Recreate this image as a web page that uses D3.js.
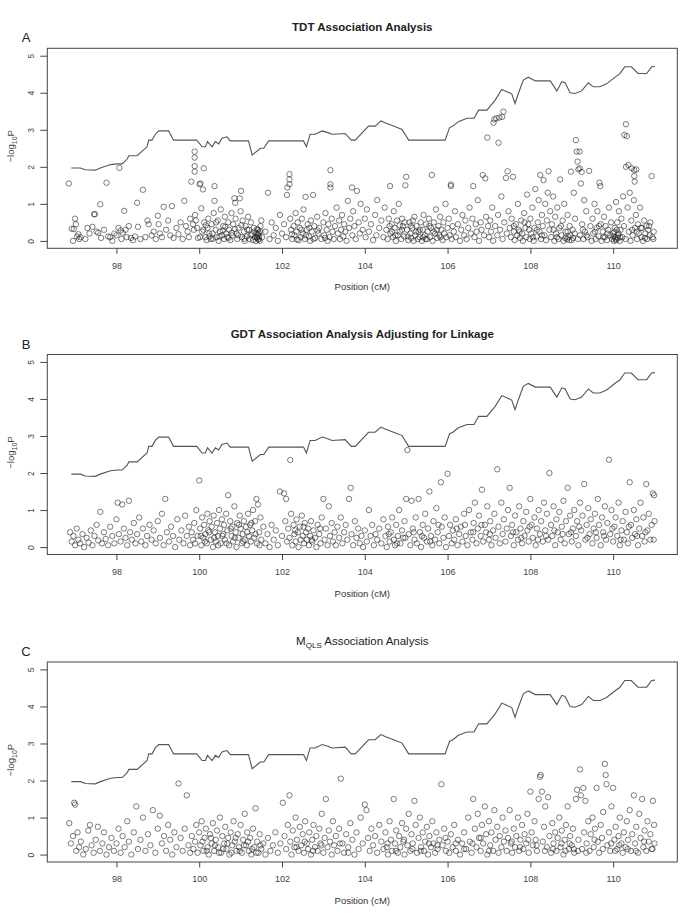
<!DOCTYPE html>
<html><head><meta charset="utf-8">
<script src="https://cdn.jsdelivr.net/npm/d3@7"></script>
<style>body{margin:0;background:#fff}svg{display:block}</style>
</head><body>
<script>
// ---------- DATA ----------
const xTicks = [98, 100, 102, 104, 106, 108, 110];
const yTicks = [0, 1, 2, 3, 4, 5];
const panelLetters = ["A", "B", "C"];
const panelTitles = ["TDT Association Analysis", "GDT Association Analysis Adjusting for Linkage", "MQLS Association Analysis"];
const xLabel = "Position (cM)";

// linkage curve (same in all panels)
const linkPos = [96.91,97.13,97.25,97.49,97.61,97.86,98.02,98.14,98.26,98.30,98.50,98.74,98.78,98.86,98.94,99.02,99.26,99.38,99.94,100.07,100.15,100.20,100.31,100.39,100.47,100.55,100.67,100.75,101.19,101.28,101.48,101.56,101.68,102.52,102.59,102.68,102.80,102.97,103.09,103.21,103.53,103.67,103.77,104.09,104.25,104.39,104.49,104.74,104.90,105.06,105.94,106.05,106.13,106.26,106.47,106.64,106.75,106.95,107.15,107.31,107.43,107.55,107.63,107.71,107.83,107.95,108.12,108.48,108.64,108.76,108.84,108.96,109.08,109.24,109.40,109.52,109.68,109.84,110.08,110.16,110.28,110.44,110.60,110.81,110.93,111.01];
const linkVal = [1.97,1.97,1.92,1.91,1.97,2.06,2.08,2.08,2.21,2.30,2.30,2.54,2.72,2.72,2.88,2.97,2.97,2.72,2.72,2.54,2.54,2.68,2.54,2.68,2.62,2.77,2.81,2.70,2.70,2.32,2.50,2.50,2.70,2.70,2.54,2.88,2.88,2.97,2.93,2.88,2.90,2.72,2.72,3.10,3.10,3.24,3.19,3.08,3.01,2.72,2.72,3.06,3.10,3.22,3.31,3.31,3.53,3.53,3.80,4.09,4.03,3.97,3.71,3.98,4.34,4.42,4.32,4.32,4.05,4.30,4.27,4.00,3.98,4.05,4.27,4.16,4.16,4.24,4.45,4.51,4.70,4.70,4.52,4.52,4.70,4.71];

// panel A: TDT  [position cM, -log10 P]
const tdtPoints = [
[96.85,1.55],[96.92,0.33],[96.97,0.32],[97.0,0.6],[97.02,0.45],[97.05,0.12],[97.08,0.18],[97.1,0.05],[97.13,0.1],[96.95,0.0],[97.25,0.05],[97.3,0.35],[97.35,0.2],[97.42,0.38],[97.46,0.72],[97.48,0.72],[97.52,0.25],[97.56,0.22],[97.61,0.99],[97.63,0.08],[97.7,0.3],[97.76,1.57],[97.8,0.12],[97.85,0.1],[97.9,0.0],[97.95,0.2],
[98.0,0.15],[98.05,0.35],[98.07,1.97],[98.1,0.28],[98.12,0.05],[98.15,0.22],[98.19,0.81],[98.22,0.3],[98.25,0.1],[98.3,0.4],[98.35,0.08],[98.4,0.02],[98.45,0.12],[98.5,1.03],[98.52,0.38],[98.58,0.05],[98.64,1.38],[98.7,0.1],[98.75,0.55],[98.78,0.45],[98.85,0.15],[98.9,0.25],[98.95,0.05],[99.0,0.68],[99.02,0.45],[99.05,0.2],[99.1,0.1],[99.14,0.92],[99.2,0.3],[99.25,0.55],[99.3,0.15],[99.34,0.94],[99.38,0.08],[99.45,0.35],[99.5,0.18],[99.55,0.5],[99.6,0.05],[99.64,1.08],[99.68,0.4],[99.72,0.25],[99.75,0.1],[99.78,0.6],
[99.81,1.6],[99.85,0.45],[99.87,0.3],[99.89,2.41],[99.89,2.25],[99.89,2.02],[99.89,1.87],[99.9,0.7],[99.92,0.55],[99.95,0.35],[99.97,0.08],[100.01,1.53],[100.03,1.55],[100.05,0.88],[100.07,0.25],[100.09,1.39],[100.11,1.96],[100.12,0.5],[100.15,0.1],[100.18,0.02],
[100.2,0.35],[100.22,0.6],[100.25,0.12],[100.28,0.05],[100.3,0.45],[100.32,0.2],[100.35,0.75],[100.37,1.48],[100.37,1.08],[100.4,0.3],[100.42,0.1],[100.45,0.55],[100.47,0.0],[100.5,0.25],[100.52,0.85],[100.55,0.15],[100.58,0.4],[100.6,0.05],[100.62,0.65],[100.65,0.2],[100.68,0.1],[100.7,0.5],[100.72,0.3],[100.75,0.02],[100.78,0.75],[100.8,0.15],[100.82,0.45],[100.85,1.15],[100.87,1.03],[100.88,0.6],[100.9,0.2],[100.92,0.05],[100.95,0.35],[100.98,1.15],[101.0,0.8],[101.01,1.35],[101.03,0.1],[101.05,0.55],[101.08,0.25],[101.1,0.0],[101.12,0.4],[101.15,0.12],[101.18,0.65],[101.2,0.3],[101.22,0.05],[101.25,0.5],[101.28,0.18],[101.3,0.02],[101.32,0.35],[101.35,0.1],[101.37,0.0],[101.38,0.2],[101.4,0.08],[101.41,0.15],[101.42,0.3],[101.43,0.05],[101.44,0.22],[101.45,0.12],[101.46,0.0],[101.48,0.4],[101.5,0.55],[101.52,0.1],
[101.6,0.25],[101.66,1.3],[101.7,0.05],[101.75,0.5],[101.8,0.15],[101.85,0.35],[101.9,0.0],[101.95,0.7],[102.0,0.2],[102.05,0.45],
[102.1,0.1],[102.12,1.24],[102.13,1.44],[102.18,1.53],[102.18,1.66],[102.18,1.8],[102.2,0.6],[102.22,0.3],[102.25,0.05],[102.28,0.4],[102.3,0.15],[102.33,0.75],[102.35,0.25],[102.38,0.5],[102.4,0.02],[102.43,0.35],[102.45,0.1],[102.48,0.6],[102.5,0.2],[102.52,0.85],[102.55,0.05],[102.57,1.19],[102.6,0.3],[102.62,0.45],[102.65,0.12],[102.68,0.0],[102.7,0.55],[102.72,0.25],[102.75,1.24],[102.78,0.4],[102.8,0.08],[102.85,0.65],[102.88,0.2],[102.9,0.35],[102.95,0.05],[103.0,0.5],[103.02,0.15],[103.05,0.75],[103.08,0.3],[103.1,0.0],[103.12,0.45],[103.15,0.1],[103.17,1.91],[103.17,1.53],[103.17,1.44],[103.2,0.6],[103.22,0.25],[103.25,0.05],[103.28,0.4],
[103.32,0.9],[103.35,0.2],[103.38,0.55],[103.4,0.05],[103.43,0.3],[103.45,0.7],[103.48,0.12],[103.5,0.45],[103.53,0.25],[103.56,0.0],[103.59,1.08],[103.62,0.35],[103.65,0.6],[103.69,1.44],[103.7,0.15],[103.72,0.8],[103.75,0.4],[103.78,0.05],[103.81,1.35],[103.85,0.5],[103.88,0.2],[103.9,1.0],[103.95,0.3],[104.0,0.6],[104.02,0.1],[104.05,0.85],[104.1,0.25],[104.15,0.45],[104.2,0.02],[104.25,0.7],[104.28,0.15],[104.3,1.1],[104.35,0.35],[104.4,0.55],[104.45,0.1],[104.48,0.9],
[104.52,0.3],[104.55,0.05],[104.58,0.6],[104.61,1.48],[104.62,0.2],[104.65,0.45],[104.68,0.1],[104.7,0.8],[104.72,0.35],[104.75,0.0],[104.78,0.55],[104.8,0.15],[104.82,1.0],[104.85,0.25],[104.88,0.05],[104.9,0.6],[104.92,0.4],[104.95,0.12],[104.98,1.5],[105.0,1.73],[105.02,0.3],[105.05,0.02],[105.08,0.5],[105.1,0.2],[105.12,0.08],[105.15,0.35],[105.18,0.0],[105.2,0.65],[105.22,0.15],[105.25,0.4],[105.28,0.05],[105.3,0.25],[105.32,0.1],[105.35,0.5],[105.38,0.0],[105.4,0.3],[105.42,0.7],[105.45,0.15],[105.48,0.45],[105.5,0.05],[105.52,0.25],[105.55,0.6],[105.58,0.1],[105.6,0.35],[105.62,1.78],[105.64,0.0],[105.67,0.5],[105.7,0.2],[105.72,0.85],[105.75,0.08],[105.78,0.4],[105.8,0.15],[105.82,0.65],[105.85,0.3],[105.88,0.02],[105.9,0.5],[105.92,0.2],[105.95,1.0],[105.97,0.1],[106.0,0.35],
[106.03,0.6],[106.05,0.15],[106.08,1.48],[106.08,1.52],[106.1,0.05],[106.12,0.4],[106.15,0.25],[106.18,0.8],[106.2,0.1],[106.25,0.45],[106.3,0.0],[106.33,0.3],[106.36,0.7],[106.4,0.15],[106.43,0.55],[106.46,0.05],[106.5,0.35],[106.53,0.9],[106.56,0.2],[106.6,0.6],[106.62,1.48],[106.65,0.1],[106.68,0.45],[106.7,0.25],[106.73,1.1],[106.76,0.0],[106.8,0.5],[106.82,0.3],[106.85,1.78],[106.88,0.15],[106.91,1.69],[106.93,0.65],[106.96,2.79],[106.98,0.4],
[107.0,0.1],[107.03,0.55],[107.05,0.25],[107.08,0.9],[107.11,3.19],[107.13,3.28],[107.18,3.31],[107.23,2.65],[107.25,3.33],[107.32,3.35],[107.35,3.49],[107.1,0.0],[107.15,0.4],[107.2,0.15],[107.22,0.7],[107.27,0.3],[107.3,1.2],[107.33,0.05],[107.37,0.5],[107.41,1.7],[107.43,0.2],[107.45,1.88],[107.47,0.8],[107.5,0.35],
[107.53,0.1],[107.55,0.6],[107.58,1.73],[107.6,0.25],[107.62,0.02],[107.65,0.45],[107.68,0.15],[107.7,1.0],[107.72,0.3],[107.75,0.08],[107.78,0.55],[107.8,0.2],[107.82,0.0],[107.85,0.75],[107.88,0.35],[107.9,0.1],[107.92,1.25],[107.95,0.45],[107.98,0.05],[108.0,0.6],[108.02,0.2],[108.05,0.9],[108.08,0.0],[108.1,0.35],[108.12,1.4],[108.15,0.12],[108.18,0.5],[108.2,1.1],[108.22,0.25],[108.24,1.78],[108.26,0.05],[108.28,0.7],[108.3,0.4],[108.32,1.64],[108.34,0.15],[108.36,1.0],[108.38,0.02],[108.4,0.55],[108.42,1.3],[108.44,1.88],[108.46,0.3],[108.48,0.8],
[108.5,0.1],[108.52,0.45],[108.55,1.2],[108.58,0.0],[108.6,0.65],[108.62,0.2],[108.65,0.9],[108.68,0.05],[108.7,0.35],[108.72,1.66],[108.75,0.15],[108.78,0.55],[108.8,0.0],[108.82,1.0],[108.85,0.25],[108.88,0.05],[108.9,0.7],[108.92,0.1],[108.95,0.4],[108.98,1.87],[109.0,0.02],[109.02,0.3],[109.05,1.3],[109.08,0.6],[109.1,2.72],[109.12,2.41],[109.14,2.14],[109.16,1.93],[109.19,2.41],[109.19,1.96],[109.2,0.15],[109.22,1.55],[109.24,1.86],[109.25,0.45],[109.28,0.05],[109.3,1.1],[109.32,0.25],[109.35,0.8],[109.38,0.1],[109.42,1.89],[109.45,0.4],[109.48,0.0],
[109.5,0.6],[109.52,0.2],[109.55,1.0],[109.58,0.05],[109.6,0.35],[109.62,0.8],[109.65,0.12],[109.67,1.57],[109.69,1.48],[109.7,0.45],[109.72,0.0],[109.75,0.25],[109.78,0.65],[109.8,0.1],[109.82,0.4],[109.85,0.02],[109.88,0.3],[109.9,0.9],[109.93,0.15],[109.95,0.5],[109.98,0.05],[110.0,0.2],[110.02,0.0],[110.04,0.35],[110.05,0.1],[110.07,1.05],[110.08,0.02],[110.1,0.5],[110.12,0.15],[110.14,0.8],[110.16,0.0],[110.18,0.3],
[110.2,0.6],[110.22,0.1],[110.24,1.2],[110.26,0.4],[110.27,2.86],[110.31,3.15],[110.33,2.83],[110.31,2.0],[110.37,2.05],[110.45,1.96],[110.51,1.91],[110.56,1.93],[110.51,1.75],[110.52,1.6],[110.3,0.05],[110.35,0.9],[110.38,0.25],[110.4,1.3],[110.42,0.0],[110.44,0.55],[110.47,0.15],[110.5,1.1],[110.53,0.35],[110.55,0.7],[110.58,0.05],[110.6,0.45],[110.62,0.2],[110.65,0.9],[110.68,0.1],[110.7,0.35],[110.72,0.0],[110.75,0.55],[110.78,0.2],[110.8,0.4],[110.82,0.05],[110.85,0.3],[110.88,0.15],[110.9,0.5],[110.93,1.75],[110.95,0.1],[110.98,0.25],
[100.02,0.1],[100.1,0.3],[100.16,0.42],[100.24,0.2],[100.33,0.06],[100.41,0.5],[100.49,0.12],[100.57,0.28],[100.63,0.38],[100.71,0.08],[100.79,0.22],[100.86,0.32],[100.94,0.15],[101.02,0.42],[101.09,0.06],[101.16,0.3],[101.24,0.15],[101.33,0.25],[101.39,0.1],[101.4,0.32],[101.42,0.18],[101.44,0.04],[101.47,0.26],
[102.24,0.18],[102.36,0.04],[102.47,0.3],[102.58,0.15],[102.66,0.35],[102.76,0.05],[102.86,0.28],[103.04,0.08],
[104.6,0.4],[104.66,0.25],[104.74,0.15],[104.84,0.42],[104.9,0.3],[104.96,0.5],[105.04,0.12],[105.11,0.4],[105.16,0.55],[105.24,0.25],[105.33,0.3],[105.41,0.1],[105.47,0.05],[105.56,0.4],[105.66,0.25],[105.74,0.3],[105.83,0.1],
[107.6,0.4],[107.74,0.25],[107.86,0.5],[107.97,0.3],[108.06,0.1],[108.16,0.3],[108.28,0.15],[108.56,0.3],[108.64,0.1],[108.74,0.4],[108.84,0.08],[108.9,0.25],[108.94,0.02],[108.97,0.15],[109.03,0.08],[109.07,0.2],[109.15,0.05],[109.27,0.3],[109.36,0.15],[109.56,0.25],[109.66,0.4],[109.76,0.1],[109.86,0.2],[110.01,0.12],[110.03,0.25],[110.06,0.05],[110.09,0.3],[110.11,0.08],[110.13,0.2],[110.17,0.1],[110.46,0.3],[110.57,0.25],[110.67,0.35],[110.77,0.08],[110.87,0.4],[110.97,0.05]
];

// panel B: GDT adjusting for linkage
const gdtPoints = [
[96.88,0.4],[96.92,0.15],[96.96,0.3],[97.0,0.05],[97.04,0.5],[97.08,0.2],[97.12,0.1],[97.18,0.35],[97.22,0.0],[97.28,0.25],[97.33,0.12],[97.38,0.45],[97.42,0.05],[97.47,0.3],[97.52,0.6],[97.56,0.18],[97.61,0.95],[97.65,0.1],[97.7,0.4],[97.74,0.22],[97.8,0.05],[97.85,0.55],[97.9,0.3],[97.95,0.1],
[98.0,0.75],[98.03,1.2],[98.06,0.35],[98.1,0.15],[98.14,1.15],[98.18,0.5],[98.22,0.25],[98.26,0.05],[98.3,1.25],[98.33,0.4],[98.37,0.2],[98.42,0.65],[98.46,0.1],[98.5,0.35],[98.55,0.8],[98.6,0.15],[98.64,0.5],[98.7,0.05],[98.74,0.3],[98.8,0.6],[98.85,0.2],[98.9,0.45],[98.95,0.1],[99.0,0.7],[99.05,0.25],[99.1,0.9],[99.14,0.05],[99.18,1.3],[99.22,0.4],[99.27,0.15],[99.32,0.55],[99.37,0.3],[99.42,0.0],[99.47,0.75],[99.52,0.2],[99.57,0.45],[99.62,0.1],[99.66,0.85],[99.7,0.3],[99.75,0.55],[99.78,0.05],
[99.82,0.4],[99.85,0.2],[99.88,0.65],[99.9,0.1],[99.93,1.0],[99.96,0.3],[100.0,1.8],[100.02,0.5],[100.05,0.05],[100.07,0.8],[100.1,0.25],[100.12,0.6],[100.15,0.35],[100.18,0.1],[100.2,0.9],[100.22,0.45],[100.25,0.7],[100.28,0.2],[100.3,0.55],[100.33,0.0],[100.35,0.85],[100.38,0.4],[100.4,0.15],[100.43,0.65],[100.45,0.3],[100.48,1.0],[100.5,0.5],[100.52,0.1],[100.55,0.75],[100.58,0.35],[100.6,0.6],[100.62,0.2],[100.65,0.9],[100.68,0.45],[100.7,1.4],[100.72,0.05],[100.75,0.7],[100.78,0.3],[100.8,0.55],[100.82,0.15],[100.85,1.1],[100.88,0.4],[100.9,0.0],[100.92,0.65],[100.95,0.25],[100.98,0.85],[101.0,0.5],[101.03,0.1],[101.05,0.35],[101.08,0.7],[101.1,0.2],[101.13,0.55],[101.15,0.05],[101.18,0.9],[101.2,0.3],[101.23,0.6],[101.25,0.15],[101.28,0.45],[101.3,1.0],[101.33,0.25],[101.35,0.7],[101.38,1.3],[101.4,0.1],[101.42,1.15],[101.45,0.4],[101.48,0.8],[101.5,0.2],[101.55,0.55],
[101.6,0.1],[101.65,0.35],[101.7,0.0],[101.75,0.6],[101.8,0.2],[101.85,0.45],[101.9,0.05],[101.95,1.5],[102.0,0.3],[102.05,1.45],
[102.08,0.7],[102.1,1.3],[102.12,0.15],[102.15,0.5],[102.18,0.25],[102.2,2.35],[102.22,0.9],[102.25,0.05],[102.28,0.6],[102.3,0.35],[102.33,0.15],[102.35,0.75],[102.38,0.4],[102.4,0.0],[102.43,0.55],[102.45,0.2],[102.48,0.85],[102.5,0.3],[102.53,0.1],[102.55,0.65],[102.58,0.4],[102.6,0.2],[102.63,0.5],[102.65,0.05],[102.68,0.3],[102.7,0.7],[102.73,0.15],[102.76,0.45],[102.8,0.25],[102.83,0.0],[102.86,0.6],[102.9,0.35],[102.93,0.1],[102.96,0.8],[103.0,1.3],[103.03,0.2],[103.06,0.5],[103.1,0.05],[103.13,1.1],[103.16,0.3],[103.2,0.65],[103.23,0.15],[103.27,0.4],
[103.3,0.05],[103.34,0.55],[103.38,0.25],[103.42,0.8],[103.46,0.1],[103.5,0.4],[103.54,0.6],[103.58,0.2],[103.62,1.3],[103.66,1.6],[103.68,0.35],[103.72,0.05],[103.76,0.7],[103.8,0.25],[103.84,0.5],[103.88,0.1],[103.92,0.3],[103.96,0.0],[104.0,0.45],[104.05,0.15],[104.1,1.0],[104.14,0.3],[104.18,0.6],[104.22,0.05],[104.26,0.35],[104.3,0.2],[104.35,0.5],[104.4,0.1],[104.45,0.75],
[104.5,0.3],[104.53,0.0],[104.56,0.55],[104.6,0.15],[104.63,0.4],[104.66,0.8],[104.7,0.2],[104.73,0.05],[104.76,0.6],[104.8,0.3],[104.83,1.0],[104.86,0.1],[104.9,0.45],[104.93,0.25],[104.96,0.7],[105.0,1.3],[105.03,2.62],[105.06,0.35],[105.1,0.05],[105.13,1.25],[105.16,0.5],[105.2,0.2],[105.23,0.8],[105.26,0.1],[105.3,1.3],[105.33,0.4],[105.36,0.0],[105.4,0.6],[105.43,0.25],[105.46,0.9],[105.5,0.15],[105.53,0.5],[105.56,1.5],[105.6,0.3],[105.63,0.05],[105.66,0.7],[105.7,0.2],[105.73,1.05],[105.76,0.4],[105.8,0.1],[105.84,1.75],[105.86,0.55],[105.9,0.25],[105.93,0.8],[105.96,0.0],[106.0,1.98],
[106.03,0.3],[106.06,0.6],[106.1,0.1],[106.13,0.45],[106.16,0.2],[106.2,0.75],[106.24,0.05],[106.28,0.35],[106.32,0.55],[106.36,0.15],[106.4,0.9],[106.44,0.3],[106.48,0.05],[106.52,1.0],[106.56,0.4],[106.6,0.2],[106.63,0.65],[106.66,1.2],[106.7,0.1],[106.73,0.5],[106.76,0.85],[106.8,0.3],[106.83,1.55],[106.86,0.15],[106.9,0.6],[106.93,0.4],[106.96,1.1],[107.0,0.2],[107.03,0.7],[107.06,0.05],[107.1,0.45],[107.13,0.9],[107.16,0.25],[107.2,2.1],[107.23,0.55],[107.26,0.1],[107.3,1.2],[107.33,0.35],[107.36,0.75],[107.4,0.15],[107.43,0.5],[107.46,1.0],[107.5,1.6],
[107.53,0.3],[107.56,0.6],[107.6,0.05],[107.63,0.85],[107.66,0.4],[107.7,0.2],[107.73,1.1],[107.76,0.5],[107.8,0.1],[107.83,0.7],[107.86,0.3],[107.9,0.95],[107.93,0.45],[107.96,0.15],[108.0,1.3],[108.03,0.6],[108.06,0.25],[108.1,0.8],[108.13,0.05],[108.16,0.5],[108.2,1.0],[108.23,0.35],[108.26,0.7],[108.3,0.15],[108.33,1.2],[108.36,0.45],[108.4,0.9],[108.43,0.2],[108.46,2.0],[108.5,0.6],[108.53,0.3],[108.56,1.1],[108.6,0.05],[108.63,0.75],[108.66,0.4],[108.7,0.95],[108.73,0.2],[108.76,0.55],[108.8,1.25],[108.83,0.1],[108.86,0.7],[108.9,1.6],[108.93,0.35],[108.96,0.85],
[109.0,0.15],[109.03,0.5],[109.06,1.0],[109.1,0.3],[109.13,0.7],[109.16,0.05],[109.2,1.2],[109.23,0.45],[109.26,0.85],[109.3,1.7],[109.33,0.2],[109.36,0.6],[109.4,1.05],[109.43,0.35],[109.46,0.75],[109.5,0.1],[109.53,0.5],[109.56,0.9],[109.6,0.25],[109.63,1.3],[109.66,0.6],[109.7,0.05],[109.73,0.8],[109.76,0.4],[109.8,1.1],[109.83,0.2],[109.86,0.65],[109.9,2.36],[109.93,0.35],[109.96,1.0],[110.0,0.15],[110.03,0.55],[110.06,0.8],[110.1,0.3],[110.13,1.2],[110.16,0.05],[110.2,0.45],
[110.23,0.7],[110.26,0.2],[110.3,0.95],[110.33,0.4],[110.36,0.1],[110.4,1.75],[110.43,0.6],[110.46,0.25],[110.5,1.0],[110.53,0.35],[110.56,0.75],[110.6,0.05],[110.63,0.5],[110.66,1.2],[110.7,0.3],[110.73,0.8],[110.76,0.15],[110.8,1.7],[110.83,0.45],[110.86,0.9],[110.9,0.2],[110.93,0.6],[110.96,1.45],[110.99,1.4],[111.0,0.7],
[100.04,0.3],[100.14,0.15],[100.24,0.4],[100.36,0.25],[100.46,0.05],[100.56,0.3],[100.66,0.1],[100.76,0.5],[100.86,0.25],[100.96,0.6],[101.06,0.15],[101.16,0.4],[101.26,0.65],[101.36,0.35],[101.46,0.05],
[104.58,0.35],[104.78,0.1],[104.98,0.25],[105.18,0.4],[105.38,0.3],[105.58,0.15],[105.78,0.6],
[107.58,0.4],[107.78,0.25],[107.98,0.55],[108.18,0.2],[108.38,0.3],[108.58,0.45],[108.78,0.35],[108.98,0.4],[109.18,0.55],[109.38,0.25],[109.58,0.4],[109.78,0.3],[109.98,0.5],[110.18,0.2],[110.38,0.55],[110.58,0.3],[110.78,0.4],[110.98,0.2],
[102.32,0.45],[102.52,0.55],[102.72,0.2],[102.92,0.5],[106.22,0.5],[106.42,0.6],[106.62,0.4],[106.82,0.6],[107.02,0.35]
];

// panel C: MQLS
const mqlsPoints = [
[96.86,0.85],[96.9,0.3],[96.95,0.5],[96.98,1.4],[97.0,1.35],[97.03,0.1],[97.06,0.6],[97.1,0.2],[97.14,0.35],[97.2,0.0],[97.26,0.15],[97.32,0.65],[97.36,0.8],[97.4,0.25],[97.45,0.05],[97.5,0.4],[97.55,0.75],[97.6,0.1],[97.66,0.3],[97.7,0.6],[97.76,0.0],[97.82,0.2],[97.88,0.45],[97.94,0.1],
[98.0,0.3],[98.05,0.7],[98.1,0.05],[98.15,0.5],[98.2,0.2],[98.26,0.9],[98.3,0.35],[98.36,0.0],[98.42,0.6],[98.48,1.3],[98.52,0.15],[98.58,0.4],[98.64,1.0],[98.7,0.1],[98.76,0.55],[98.82,0.25],[98.88,1.2],[98.94,0.05],[99.0,0.7],[99.05,1.05],[99.1,0.3],[99.15,0.5],[99.2,0.1],[99.25,0.8],[99.3,0.4],[99.35,0.0],[99.4,0.6],[99.45,0.2],[99.5,1.92],[99.55,0.45],[99.6,0.1],[99.65,0.7],[99.7,1.6],[99.74,0.25],[99.78,0.05],
[99.82,0.5],[99.86,0.15],[99.9,0.35],[99.93,0.8],[99.96,0.05],[100.0,0.6],[100.03,0.25],[100.06,0.9],[100.1,0.1],[100.13,0.45],[100.16,0.7],[100.2,0.2],[100.23,0.0],[100.26,0.55],[100.3,0.3],[100.33,0.85],[100.36,0.1],[100.4,0.4],[100.43,0.65],[100.46,0.2],[100.5,1.0],[100.53,0.05],[100.56,0.5],[100.6,0.3],[100.63,0.75],[100.66,0.15],[100.7,0.45],[100.73,0.0],[100.76,0.6],[100.8,0.25],[100.83,0.9],[100.86,0.35],[100.9,0.1],[100.93,0.55],[100.96,0.2],[101.0,0.8],[101.03,0.05],[101.06,0.4],[101.1,1.1],[101.13,0.25],[101.16,0.6],[101.2,0.1],[101.23,0.45],[101.26,0.0],[101.3,0.7],[101.33,0.2],[101.36,1.25],[101.4,0.35],[101.43,0.05],[101.46,0.55],[101.5,0.15],[101.55,0.3],
[101.6,0.0],[101.66,0.45],[101.72,0.1],[101.78,0.25],[101.84,0.6],[101.9,0.05],[101.96,0.3],[102.02,1.4],
[102.06,0.5],[102.1,0.15],[102.14,0.8],[102.18,1.6],[102.2,0.35],[102.23,0.0],[102.26,0.65],[102.3,0.2],[102.33,1.0],[102.36,0.4],[102.4,0.1],[102.43,0.75],[102.46,0.25],[102.5,0.55],[102.53,0.05],[102.56,0.9],[102.6,0.3],[102.63,0.15],[102.66,0.6],[102.7,0.0],[102.73,0.4],[102.76,0.8],[102.8,0.2],[102.83,0.5],[102.86,0.1],[102.9,0.7],[102.93,0.3],[102.96,1.1],[103.0,0.05],[103.03,0.45],[103.06,1.5],[103.1,0.2],[103.13,0.65],[103.16,0.35],[103.2,0.0],[103.23,0.9],[103.26,0.25],
[103.3,0.5],[103.34,0.1],[103.38,0.7],[103.42,2.05],[103.46,0.3],[103.5,0.05],[103.55,0.55],[103.6,0.2],[103.65,0.85],[103.7,0.4],[103.75,0.0],[103.8,0.6],[103.85,0.15],[103.9,1.0],[103.95,0.3],[104.0,1.35],[104.04,1.2],[104.08,0.45],[104.12,0.1],[104.16,0.7],[104.2,0.25],[104.25,0.5],[104.3,0.05],[104.35,0.8],[104.4,0.35],[104.45,0.15],
[104.5,0.6],[104.53,0.2],[104.56,0.0],[104.6,0.9],[104.63,0.4],[104.66,0.1],[104.7,1.5],[104.73,0.3],[104.76,0.65],[104.8,0.05],[104.83,0.5],[104.86,0.2],[104.9,0.85],[104.93,0.35],[104.96,0.0],[105.0,0.7],[105.03,0.25],[105.06,1.1],[105.1,0.1],[105.13,0.55],[105.16,0.3],[105.2,1.45],[105.23,0.8],[105.26,0.05],[105.3,0.45],[105.33,1.0],[105.36,0.2],[105.4,0.6],[105.43,0.1],[105.46,0.35],[105.5,0.75],[105.53,0.0],[105.56,0.5],[105.6,0.2],[105.63,0.9],[105.66,0.3],[105.7,0.05],[105.73,0.6],[105.76,0.15],[105.8,0.4],[105.85,1.9],[105.88,0.25],[105.92,0.7],[105.96,0.1],
[106.0,0.35],[106.04,0.05],[106.08,0.55],[106.12,0.2],[106.16,0.8],[106.2,0.1],[106.25,0.4],[106.3,0.0],[106.35,0.3],[106.4,0.6],[106.45,0.15],[106.5,1.0],[106.54,0.35],[106.58,0.05],[106.62,1.5],[106.66,0.7],[106.7,0.2],[106.73,1.1],[106.76,0.45],[106.8,0.1],[106.83,0.8],[106.86,0.3],[106.9,1.3],[106.93,0.55],[106.96,0.0],[107.0,0.9],[107.03,0.25],[107.06,0.6],[107.1,0.1],[107.13,1.2],[107.16,0.4],[107.2,0.75],[107.23,0.05],[107.26,0.5],[107.3,0.2],[107.33,1.0],[107.36,0.35],[107.4,0.65],[107.43,0.1],[107.46,0.45],[107.5,1.2],
[107.53,0.3],[107.56,0.05],[107.6,0.7],[107.63,0.2],[107.66,0.5],[107.7,1.0],[107.73,0.1],[107.76,0.4],[107.8,0.8],[107.83,0.15],[107.86,0.55],[107.9,0.3],[107.93,1.1],[107.96,0.05],[108.0,1.7],[108.03,0.6],[108.06,0.25],[108.1,0.9],[108.13,0.4],[108.16,0.1],[108.2,1.5],[108.23,2.1],[108.25,2.15],[108.28,1.7],[108.3,0.35],[108.33,0.75],[108.36,1.3],[108.4,0.2],[108.43,1.55],[108.46,0.5],[108.5,0.05],[108.53,0.85],[108.56,0.3],[108.6,0.6],[108.63,0.1],[108.66,0.45],[108.7,1.0],[108.73,0.2],[108.76,0.65],[108.8,0.0],[108.83,0.4],[108.86,0.8],[108.9,1.3],[108.93,0.15],[108.96,0.5],
[109.0,0.25],[109.03,0.7],[109.06,0.05],[109.1,1.5],[109.13,1.75],[109.16,0.4],[109.2,2.3],[109.22,1.6],[109.25,0.15],[109.28,1.8],[109.3,0.6],[109.33,1.45],[109.36,0.3],[109.4,0.9],[109.43,0.1],[109.46,0.55],[109.5,1.0],[109.53,0.2],[109.56,0.7],[109.6,1.8],[109.63,0.35],[109.66,0.05],[109.7,0.8],[109.73,0.45],[109.76,1.15],[109.8,2.45],[109.82,2.15],[109.84,1.9],[109.86,0.25],[109.9,0.6],[109.93,0.1],[109.96,1.3],[110.0,1.8],[110.03,0.4],[110.06,0.75],[110.1,0.15],[110.13,0.5],[110.16,1.0],[110.2,0.3],
[110.23,0.05],[110.26,0.6],[110.3,0.2],[110.33,0.9],[110.36,0.4],[110.4,1.2],[110.43,0.1],[110.46,0.55],[110.5,1.6],[110.53,0.3],[110.56,0.75],[110.6,0.05],[110.63,1.1],[110.66,0.45],[110.7,1.5],[110.73,0.2],[110.76,0.65],[110.8,0.1],[110.83,0.9],[110.86,0.35],[110.9,0.55],[110.93,0.15],[110.96,1.45],[110.99,0.8],[111.0,0.3],
[100.08,0.35],[100.18,0.1],[100.28,0.45],[100.38,0.25],[100.48,0.05],[100.58,0.15],[100.68,0.3],[100.78,0.05],[100.88,0.45],[100.98,0.1],[101.08,0.25],[101.18,0.35],[101.28,0.15],[101.38,0.05],[101.48,0.25],
[104.55,0.3],[104.75,0.1],[104.95,0.4],[105.15,0.15],[105.35,0.1],[105.55,0.3],[105.75,0.25],[105.95,0.45],
[107.55,0.35],[107.75,0.2],[107.95,0.4],[108.15,0.25],[108.35,0.1],[108.55,0.15],[108.75,0.3],[108.85,0.1],[108.95,0.3],[109.05,0.15],[109.15,0.1],[109.35,0.05],[109.55,0.4],[109.75,0.15],[109.95,0.3],[110.05,0.1],[110.15,0.25],[110.35,0.15],[110.55,0.1],[110.75,0.35],[110.95,0.15],
[102.35,0.2],[102.55,0.35],[102.75,0.1],[102.95,0.25],[106.2,0.3],[106.4,0.15],[106.6,0.3],[106.8,0.45],[107.0,0.1],[103.4,0.3],[103.6,0.05]
];

// ---------- DRAW ----------
const W = 685, H = 919;
const svg = d3.select("body").append("svg").attr("width", W).attr("height", H)
  .style("font-family", "'Liberation Sans', Arial, sans-serif");

const left = 47.3, right = 677.3, boxH = 200;
const tops = [48.3, 354.5, 662];
const x = d3.scaleLinear().domain([96.33, 111.55]).range([left, right]);
const panelData = [tdtPoints, gdtPoints, mqlsPoints];

tops.forEach((top, i) => {
  const g = svg.append("g");
  const y = d3.scaleLinear().domain([-0.2, 5.2]).range([top + boxH, top]);

  // title
  const t = g.append("text").attr("x", (left + right) / 2).attr("y", top - 17)
    .attr("text-anchor", "middle").attr("fill", "#222").style("font-size", "11.5px");
  if (i === 2) {
    t.append("tspan").text("M");
    t.append("tspan").attr("dy", 3).style("font-size", "8px").text("QLS");
    t.append("tspan").attr("dy", -3).text(" Association Analysis");
  } else {
    t.style("font-weight", "bold").text(panelTitles[i]);
  }
  // letter
  g.append("text").attr("x", 26).attr("y", top - 6).attr("text-anchor", "middle")
    .attr("fill", "#222").style("font-size", "13px").text(panelLetters[i]);

  // box
  g.append("rect").attr("x", left).attr("y", top).attr("width", right - left).attr("height", boxH)
    .attr("fill", "none").attr("stroke", "#444").attr("stroke-width", 1);

  // x axis
  const xa = g.append("g").attr("transform", `translate(0,${top + boxH})`)
    .call(d3.axisBottom(x).tickValues(xTicks).tickSize(5.5).tickPadding(8.5).tickFormat(d3.format("d")));
  xa.select(".domain").remove();
  xa.selectAll("line").attr("stroke", "#444");
  xa.selectAll("text").attr("fill", "#444").style("font-size", "9px").style("font-family", "'Liberation Sans', Arial, sans-serif");

  // y axis
  const ya = g.append("g").attr("transform", `translate(${left},0)`)
    .call(d3.axisLeft(y).tickValues(yTicks).tickSize(7).tickFormat(d3.format("d")));
  ya.select(".domain").remove();
  ya.selectAll("line").attr("stroke", "#444");
  ya.selectAll("text").attr("x", null).attr("dy", null).attr("text-anchor", "middle")
    .attr("transform", "translate(-13.5,0) rotate(-90)")
    .attr("fill", "#444").style("font-size", "8.5px").style("font-family", "'Liberation Sans', Arial, sans-serif");

  // y label
  const yl = g.append("text").attr("transform", `translate(14,${top + boxH / 2 - 2}) rotate(-90)`)
    .attr("text-anchor", "middle").attr("fill", "#444").style("font-size", "9.5px");
  yl.append("tspan").text("\u2212log");
  yl.append("tspan").attr("dy", 2.5).style("font-size", "7px").text("10");
  yl.append("tspan").attr("dy", -2.5).text("P");

  // x label
  g.append("text").attr("x", (left + right) / 2).attr("y", top + boxH + 42)
    .attr("text-anchor", "middle").attr("fill", "#333").style("font-size", "9.5px").text(xLabel);

  // points
  g.append("g").selectAll("circle").data(panelData[i]).join("circle")
    .attr("cx", d => x(d[0])).attr("cy", d => y(d[1])).attr("r", 2.7)
    .attr("fill", "none").attr("stroke", "#222").attr("stroke-opacity", 0.65).attr("stroke-width", 0.9);

  // linkage line
  const line = d3.line().x((d, k) => x(linkPos[k])).y(d => y(d));
  g.append("path").datum(linkVal).attr("d", line).attr("fill", "none")
    .attr("stroke", "#555").attr("stroke-width", 1.1);
});
</script>
</body></html>
